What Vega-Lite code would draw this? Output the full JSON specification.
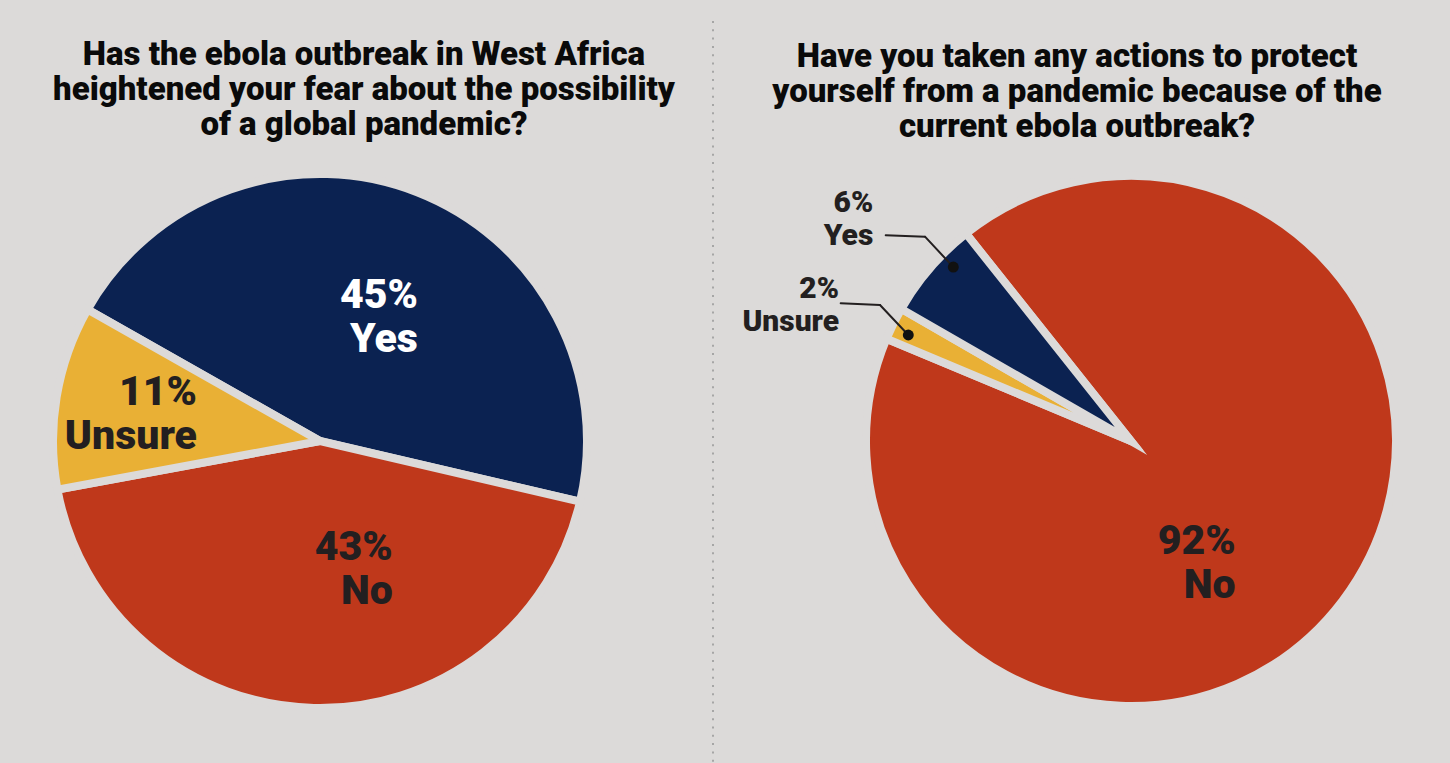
{
  "$schema": "https://vega.github.io/schema/vega-lite/v6.json",
  "background": "#dcdad9",
  "padding": {"left": 7, "top": 19, "right": 0, "bottom": 0},
  "config": {
    "view": {"stroke": null},
    "title": {"font": "Roboto", "fontWeight": 900, "fontSize": 33, "lineHeight": 35, "color": "#0a0a0a", "anchor": "middle", "frame": "group", "offset": -8}
  },
  "datasets": {
    "left": [
      {"answer": "Yes", "pct": 45},
      {"answer": "No", "pct": 43},
      {"answer": "Unsure", "pct": 11}
    ],
    "right": [
      {"answer": "No", "pct": 92},
      {"answer": "Unsure", "pct": 2},
      {"answer": "Yes", "pct": 6}
    ]
  },
  "spacing": 40,
  "bounds": "flush",
  "hconcat": [
    {
      "width": 626,
      "height": 540,
      "title": {"text": ["Has the ebola outbreak in West Africa", "heightened your fear about the possibility", "of a global pandemic?"], "dx": 44},
      "data": {"name": "left"},
      "transform": [{"calculate": "[datum.pct + '%', datum.answer]", "as": "label"}],
      "encoding": {
        "theta": {"field": "pct", "type": "quantitative", "stack": true, "scale": {"range": [-1.05592, 5.22727], "nice": false, "zero": true}},
        "order": {"field": "pct", "sort": "descending"}
      },
      "layer": [
        {
          "mark": {"type": "arc", "outerRadius": 267, "stroke": "#dcdad9", "strokeWidth": 8, "strokeMiterLimit": 10},
          "encoding": {
            "color": {"field": "answer", "type": "nominal", "scale": {"domain": ["Yes", "No", "Unsure"], "range": ["#0b2251", "#bf381b", "#e9b035"]}, "legend": null}
          }
        },
        {
          "mark": {
            "type": "text", "radius": 140, "align": "right", "baseline": "middle",
            "font": "Roboto", "fontWeight": 900, "fontSize": 41, "lineHeight": 44,
            "dx": {"expr": "datum.answer === 'Yes' ? 47 : datum.answer === 'No' ? 76 : 15"},
            "dy": {"expr": "datum.answer === 'Yes' ? -15 : datum.answer === 'No' ? -33 : -25"}
          },
          "encoding": {
            "text": {"field": "label"},
            "color": {"condition": {"test": "datum.answer === 'Yes'", "value": "#ffffff"}, "value": "#231f20"}
          }
        }
      ]
    },
    {
      "width": 80,
      "height": 540,
      "data": {"values": [{}]},
      "mark": {"type": "rule", "stroke": "#a6a6a6", "strokeWidth": 2, "strokeDash": [2, 6.3]},
      "encoding": {
        "x": {"datum": 0, "type": "quantitative", "scale": {"domain": [-1, 1]}, "axis": null},
        "y": {"datum": 1.27778, "type": "quantitative", "scale": {"domain": [0, 1], "nice": false, "zero": false}, "axis": null},
        "y2": {"datum": -0.09444}
      }
    },
    {
      "width": 657,
      "height": 540,
      "title": {"text": ["Have you taken any actions to protect", "yourself from a pandemic because of the", "current ebola outbreak?"], "dx": -44.5},
      "layer": [
        {
          "data": {"name": "right"},
          "transform": [{"calculate": "[datum.pct + '%', datum.answer]", "as": "label"}],
          "encoding": {
            "x": {"datum": 0, "type": "quantitative", "scale": {"domain": [-1.25185, 1.18148], "nice": false, "zero": false}, "axis": null},
            "y": {"datum": 0, "type": "quantitative", "scale": {"domain": [-1, 1], "nice": false, "zero": false}, "axis": null},
            "theta": {"field": "pct", "type": "quantitative", "stack": true, "scale": {"range": [-0.67195, 5.61124], "nice": false, "zero": true}},
            "order": {"field": "answer", "sort": "ascending"}
          },
          "layer": [
            {
              "mark": {"type": "arc", "outerRadius": 265, "stroke": "#dcdad9", "strokeWidth": 8, "strokeMiterLimit": 10},
              "encoding": {
                "color": {"field": "answer", "type": "nominal", "scale": {"domain": ["Yes", "No", "Unsure"], "range": ["#0b2251", "#bf381b", "#e9b035"]}, "legend": null}
              }
            },
            {
              "mark": {
                "type": "text", "radius": 150, "align": "right", "baseline": "middle",
                "font": "Roboto", "fontWeight": 900, "color": "#231f20",
                "lineHeight": {"expr": "datum.answer === 'No' ? 44 : 33"},
                "dx": {"expr": "datum.answer === 'No' ? -15 : datum.answer === 'Yes' ? -144 : -157.5"},
                "dy": {"expr": "datum.answer === 'No' ? 11 : datum.answer === 'Yes' ? -140 : -86"}
              },
              "encoding": {
                "text": {"field": "label"},
                "size": {"condition": {"test": "datum.answer === 'No'", "value": 41}, "value": 30}
              }
            }
          ]
        },
        {
          "data": {"values": [{}]},
          "mark": {"type": "rule", "stroke": "#231f20", "strokeWidth": 2, "strokeCap": "round"},
          "encoding": {
            "x": {"datum": -0.9085, "type": "quantitative", "scale": {"domain": [-1.25185, 1.18148], "nice": false, "zero": false}, "axis": null},
            "y": {"datum": 0.7619, "type": "quantitative", "scale": {"domain": [-1, 1], "nice": false, "zero": false}, "axis": null},
            "x2": {"datum": -0.763},
            "y2": {"datum": 0.7567}
          }
        },
        {
          "data": {"values": [{}]},
          "mark": {"type": "rule", "stroke": "#231f20", "strokeWidth": 2, "strokeCap": "round"},
          "encoding": {
            "x": {"datum": -0.763, "type": "quantitative", "scale": {"domain": [-1.25185, 1.18148], "nice": false, "zero": false}, "axis": null},
            "y": {"datum": 0.7567, "type": "quantitative", "scale": {"domain": [-1, 1], "nice": false, "zero": false}, "axis": null},
            "x2": {"datum": -0.6581},
            "y2": {"datum": 0.6444}
          }
        },
        {
          "data": {"values": [{}]},
          "mark": {"type": "rule", "stroke": "#231f20", "strokeWidth": 2, "strokeCap": "round"},
          "encoding": {
            "x": {"datum": -1.0752, "type": "quantitative", "scale": {"domain": [-1.25185, 1.18148], "nice": false, "zero": false}, "axis": null},
            "y": {"datum": 0.51, "type": "quantitative", "scale": {"domain": [-1, 1], "nice": false, "zero": false}, "axis": null},
            "x2": {"datum": -0.9296},
            "y2": {"datum": 0.5037}
          }
        },
        {
          "data": {"values": [{}]},
          "mark": {"type": "rule", "stroke": "#231f20", "strokeWidth": 2, "strokeCap": "round"},
          "encoding": {
            "x": {"datum": -0.9296, "type": "quantitative", "scale": {"domain": [-1.25185, 1.18148], "nice": false, "zero": false}, "axis": null},
            "y": {"datum": 0.5037, "type": "quantitative", "scale": {"domain": [-1, 1], "nice": false, "zero": false}, "axis": null},
            "x2": {"datum": -0.8248},
            "y2": {"datum": 0.3926}
          }
        },
        {
          "data": {"values": [{}]},
          "mark": {"type": "point", "filled": true, "size": 120, "color": "#111111", "opacity": 1},
          "encoding": {
            "x": {"datum": -0.6581, "type": "quantitative", "scale": {"domain": [-1.25185, 1.18148], "nice": false, "zero": false}, "axis": null},
            "y": {"datum": 0.6444, "type": "quantitative", "scale": {"domain": [-1, 1], "nice": false, "zero": false}, "axis": null}
          }
        },
        {
          "data": {"values": [{}]},
          "mark": {"type": "point", "filled": true, "size": 120, "color": "#111111", "opacity": 1},
          "encoding": {
            "x": {"datum": -0.8248, "type": "quantitative", "scale": {"domain": [-1.25185, 1.18148], "nice": false, "zero": false}, "axis": null},
            "y": {"datum": 0.3926, "type": "quantitative", "scale": {"domain": [-1, 1], "nice": false, "zero": false}, "axis": null}
          }
        }
      ]
    }
  ]
}
